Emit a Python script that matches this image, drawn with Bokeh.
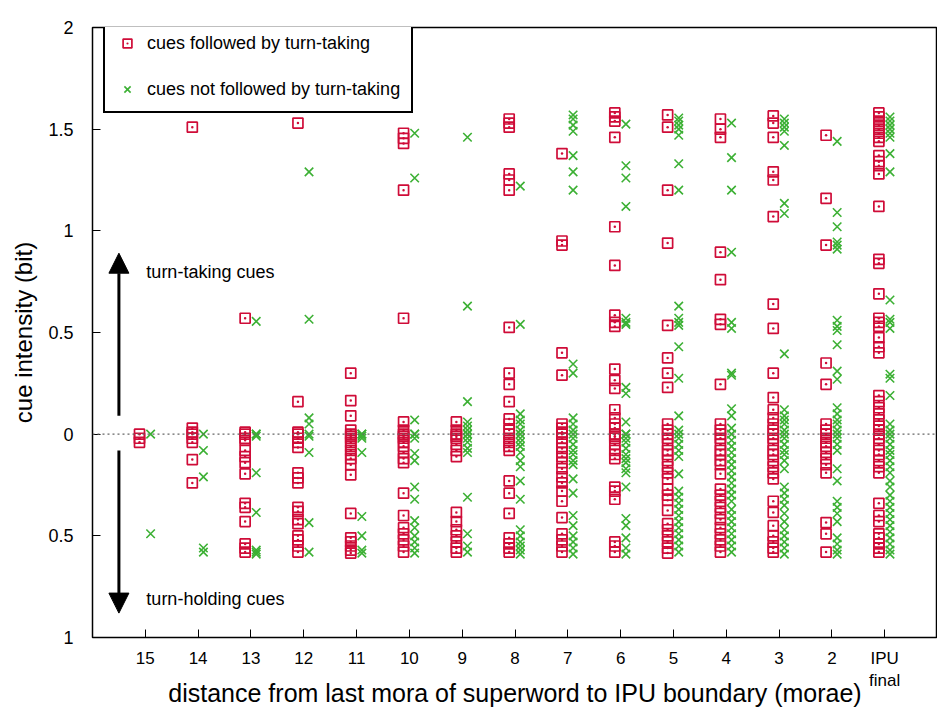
from bokeh.plotting import figure
from bokeh.models import (ColumnDataSource, Range1d, FixedTicker, CustomJSTickFormatter,
                          Span, Arrow, NormalHead, Label, Legend, LegendItem)
from bokeh.transform import dodge
from bokeh.embed import file_html
from bokeh.resources import INLINE

FONT = "Liberation Sans"

# category labels (distance in morae to IPU boundary)
categories = ["15", "14", "13", "12", "11", "10", "9", "8", "7", "6", "5", "4", "3", "2", "IPU\nfinal"]

# cue intensity (bit); negative = turn-holding cues
followed_15 = [0.0, -0.02, -0.04]
notfollowed_15 = [0.0, -0.49]
followed_14 = [1.51, 0.03, 0.01, 0.0, -0.02, -0.04, -0.125, -0.24]
notfollowed_14 = [0.0, -0.08, -0.21, -0.56, -0.58]
followed_13 = [0.57, 0.01, 0.0, -0.02, -0.03, -0.08, -0.11, -0.14, -0.195, -0.34, -0.36, -0.43, -0.54, -0.56, -0.58]
notfollowed_13 = [0.555, 0.0, 0.0, -0.01, -0.19, -0.385, -0.57, -0.58, -0.59]
followed_12 = [1.53, 0.16, 0.01, 0.0, -0.02, -0.04, -0.065, -0.19, -0.215, -0.24, -0.36, -0.38, -0.42, -0.44, -0.5, -0.52, -0.55, -0.58]
notfollowed_12 = [1.29, 0.565, 0.08, 0.05, 0.0, -0.01, -0.09, -0.435, -0.58]
followed_11 = [0.30, 0.165, 0.09, 0.02, 0.0, -0.01, -0.02, -0.04, -0.06, -0.08, -0.1, -0.12, -0.15, -0.2, -0.39, -0.51, -0.53, -0.55, -0.57, -0.585]
notfollowed_11 = [0.0, 0.0, -0.01, -0.02, -0.09, -0.405, -0.5, -0.57, -0.585]
followed_10 = [1.48, 1.455, 1.43, 1.20, 0.57, 0.06, 0.02, 0.0, -0.01, -0.02, -0.04, -0.06, -0.09, -0.12, -0.14, -0.29, -0.40, -0.46, -0.49, -0.52, -0.55, -0.58]
notfollowed_10 = [1.48, 1.26, 0.07, 0.0, 0.0, -0.02, -0.095, -0.13, -0.26, -0.32, -0.425, -0.46, -0.5, -0.53, -0.56, -0.585]
followed_9 = [0.06, 0.02, 0.0, -0.01, -0.02, -0.05, -0.08, -0.11, -0.385, -0.43, -0.47, -0.5, -0.53, -0.56, -0.58]
notfollowed_9 = [1.46, 0.63, 0.16, 0.06, 0.04, 0.02, 0.0, 0.0, -0.02, -0.04, -0.07, -0.09, -0.31, -0.49, -0.55, -0.58]
followed_8 = [1.55, 1.53, 1.51, 1.28, 1.25, 1.20, 0.525, 0.30, 0.245, 0.16, 0.075, 0.05, 0.02, 0.0, -0.02, -0.04, -0.06, -0.08, -0.23, -0.29, -0.39, -0.51, -0.54, -0.56, -0.58]
notfollowed_8 = [1.22, 0.54, 0.1, 0.07, 0.05, 0.02, 0.0, -0.02, -0.04, -0.06, -0.09, -0.13, -0.16, -0.23, -0.32, -0.47, -0.5, -0.53, -0.55, -0.57, -0.59]
followed_7 = [1.38, 0.95, 0.93, 0.40, 0.29, 0.05, 0.03, 0.01, 0.0, -0.02, -0.04, -0.07, -0.09, -0.11, -0.14, -0.17, -0.21, -0.24, -0.28, -0.33, -0.41, -0.49, -0.52, -0.55, -0.58]
notfollowed_7 = [1.57, 1.55, 1.52, 1.49, 1.37, 1.29, 1.20, 0.345, 0.30, 0.08, 0.05, 0.02, 0.0, -0.02, -0.05, -0.08, -0.1, -0.13, -0.15, -0.22, -0.29, -0.40, -0.45, -0.5, -0.53, -0.56, -0.59]
followed_6 = [1.58, 1.56, 1.54, 1.46, 1.02, 0.83, 0.585, 0.55, 0.53, 0.32, 0.265, 0.225, 0.12, 0.08, 0.05, 0.03, 0.0, -0.01, -0.02, -0.05, -0.08, -0.1, -0.12, -0.26, -0.28, -0.32, -0.53, -0.55, -0.58]
notfollowed_6 = [1.525, 1.32, 1.26, 1.12, 0.57, 0.55, 0.54, 0.23, 0.20, 0.06, 0.0, 0.0, -0.02, -0.04, -0.07, -0.1, -0.12, -0.14, -0.17, -0.19, -0.26, -0.415, -0.45, -0.51, -0.56, -0.59]
followed_5 = [1.57, 1.51, 1.20, 0.94, 0.535, 0.375, 0.30, 0.23, 0.05, 0.02, 0.0, -0.02, -0.05, -0.08, -0.1, -0.13, -0.16, -0.19, -0.22, -0.27, -0.30, -0.325, -0.375, -0.44, -0.47, -0.5, -0.53, -0.56, -0.585]
notfollowed_5 = [1.555, 1.54, 1.52, 1.50, 1.47, 1.33, 1.20, 0.63, 0.57, 0.55, 0.535, 0.43, 0.275, 0.09, 0.02, 0.0, -0.02, -0.05, -0.08, -0.11, -0.195, -0.28, -0.31, -0.34, -0.37, -0.40, -0.43, -0.46, -0.49, -0.52, -0.55, -0.58]
followed_4 = [1.55, 1.50, 1.46, 0.895, 0.76, 0.565, 0.54, 0.245, 0.05, 0.02, 0.0, -0.02, -0.05, -0.08, -0.1, -0.13, -0.15, -0.195, -0.27, -0.30, -0.33, -0.36, -0.39, -0.42, -0.46, -0.49, -0.52, -0.55, -0.58]
notfollowed_4 = [1.53, 1.36, 1.20, 0.895, 0.55, 0.52, 0.30, 0.29, 0.125, 0.09, 0.03, 0.0, -0.03, -0.06, -0.09, -0.12, -0.15, -0.18, -0.21, -0.24, -0.27, -0.30, -0.33, -0.37, -0.40, -0.43, -0.46, -0.49, -0.52, -0.55, -0.58]
followed_3 = [1.565, 1.53, 1.46, 1.29, 1.25, 1.07, 0.64, 0.52, 0.30, 0.18, 0.12, 0.08, 0.05, 0.02, 0.0, -0.02, -0.05, -0.08, -0.1, -0.13, -0.16, -0.19, -0.22, -0.33, -0.385, -0.45, -0.5, -0.53, -0.56, -0.58]
notfollowed_3 = [1.55, 1.53, 1.51, 1.49, 1.42, 1.135, 1.085, 0.395, 0.12, 0.09, 0.07, 0.05, 0.02, 0.0, -0.02, -0.05, -0.08, -0.1, -0.13, -0.17, -0.26, -0.29, -0.32, -0.35, -0.39, -0.43, -0.47, -0.5, -0.53, -0.56, -0.59]
followed_2 = [1.47, 1.16, 0.93, 0.35, 0.245, 0.05, 0.02, 0.0, -0.02, -0.04, -0.06, -0.09, -0.12, -0.15, -0.19, -0.435, -0.49, -0.58]
notfollowed_2 = [1.44, 1.09, 1.02, 0.945, 0.93, 0.91, 0.56, 0.53, 0.51, 0.44, 0.31, 0.27, 0.13, 0.10, 0.07, 0.05, 0.02, 0.0, -0.02, -0.05, -0.08, -0.17, -0.23, -0.33, -0.36, -0.39, -0.43, -0.51, -0.54, -0.57, -0.59]
followed_ipu = [1.58, 1.56, 1.54, 1.52, 1.50, 1.48, 1.46, 1.44, 1.37, 1.34, 1.32, 1.28, 1.12, 0.86, 0.84, 0.69, 0.57, 0.55, 0.53, 0.475, 0.43, 0.40, 0.19, 0.16, 0.13, 0.10, 0.07, 0.04, 0.02, 0.0, -0.02, -0.05, -0.08, -0.1, -0.13, -0.16, -0.19, -0.34, -0.40, -0.43, -0.49, -0.51, -0.54, -0.56, -0.58]
notfollowed_ipu = [1.56, 1.54, 1.52, 1.50, 1.48, 1.46, 1.38, 1.29, 0.66, 0.565, 0.55, 0.52, 0.295, 0.275, 0.19, 0.05, 0.02, 0.0, -0.02, -0.05, -0.08, -0.1, -0.13, -0.16, -0.19, -0.23, -0.26, -0.30, -0.33, -0.36, -0.39, -0.42, -0.45, -0.48, -0.51, -0.54, -0.57, -0.59]

y_ticks = [-1, -0.5, 0, 0.5, 1, 1.5, 2]

followed = [followed_15, followed_14, followed_13, followed_12, followed_11, followed_10, followed_9,
            followed_8, followed_7, followed_6, followed_5, followed_4, followed_3, followed_2, followed_ipu]
notfollowed = [notfollowed_15, notfollowed_14, notfollowed_13, notfollowed_12, notfollowed_11, notfollowed_10,
               notfollowed_9, notfollowed_8, notfollowed_7, notfollowed_6, notfollowed_5, notfollowed_4,
               notfollowed_3, notfollowed_2, notfollowed_ipu]

pos = {c: i + 1 for i, c in enumerate(categories)}

def build(groups):
    xs, ys = [], []
    for c, vals in zip(categories, groups):
        xs += [pos[c]] * len(vals)
        ys += vals
    return ColumnDataSource(dict(x=xs, y=ys))

src_f = build(followed)
src_n = build(notfollowed)

RED = "#cf0c38"
GREEN = "#3cb034"

p = figure(width=937, height=710, output_backend="svg", toolbar_location=None,
           x_range=Range1d(0, 16), y_range=Range1d(-1, 2),
           min_border_left=92, min_border_top=27, min_border_right=0, min_border_bottom=73)
p.background_fill_color = "white"
p.border_fill_color = "white"
p.grid.visible = False
p.outline_line_color = "black"
p.outline_line_width = 1.5

# zero line
p.add_layout(Span(location=0, dimension="width", line_color="#666666", line_dash="2 3", line_width=1.2))

r_f = p.scatter(x=dodge("x", -0.11), y="y", source=src_f, marker="square_dot", size=10,
                fill_color=None, line_color=RED, line_width=1.7)
r_n = p.scatter(x=dodge("x", 0.1), y="y", source=src_n, marker="x", size=12,
                line_color=GREEN, line_width=1.6)

# axes
xa = p.xaxis[0]
xa.ticker = FixedTicker(ticks=[pos[c] for c in categories])
xa.major_label_overrides = {pos[c]: c for c in categories}
xa.axis_label = "distance from last mora of superword to IPU boundary (morae)"
ya = p.yaxis[0]
ya.ticker = FixedTicker(ticks=y_ticks)
ya.formatter = CustomJSTickFormatter(code="return String(Math.abs(tick));")
ya.axis_label = "cue intensity (bit)"
for ax in (xa, ya):
    ax.major_tick_in = 8
    ax.major_tick_out = 0
    ax.minor_tick_line_color = None
    ax.axis_line_color = "black"
    ax.major_tick_line_color = "black"
    ax.major_label_text_font = FONT
    ax.major_label_text_color = "black"
    ax.axis_label_text_font = FONT
    ax.axis_label_text_font_style = "normal"
    ax.axis_label_text_color = "black"
xa.major_label_text_font_size = "17px"
ya.major_label_text_font_size = "18px"
xa.axis_label_text_font_size = "25px"
ya.axis_label_text_font_size = "24px"
xa.major_label_standoff = 11
xa.axis_label_standoff = -14
ya.major_label_standoff = 19
ya.axis_label_standoff = 8

# arrows and annotations
p.add_layout(Arrow(end=NormalHead(size=20, fill_color="black", line_color="black"),
                   x_start=0.5, y_start=0.09, x_end=0.5, y_end=0.89, line_width=3, line_color="black"))
p.add_layout(Arrow(end=NormalHead(size=20, fill_color="black", line_color="black"),
                   x_start=0.5, y_start=-0.08, x_end=0.5, y_end=-0.88, line_width=3, line_color="black"))
p.add_layout(Label(x=1.02, y=0.80, text="turn-taking cues", text_font=FONT, text_font_size="18px",
                   text_baseline="middle", text_color="black"))
p.add_layout(Label(x=1.02, y=-0.81, text="turn-holding cues", text_font=FONT, text_font_size="18px",
                   text_baseline="middle", text_color="black"))

legend = Legend(items=[LegendItem(label="cues followed by turn-taking", renderers=[r_f]),
                       LegendItem(label="cues not followed by turn-taking", renderers=[r_n])],
                location=(11, 524), margin=0, padding=11, spacing=24,
                glyph_width=22, glyph_height=22, label_height=20, label_standoff=9,
                label_text_font=FONT, label_text_font_size="18px", label_text_color="black",
                border_line_color="black", border_line_width=2.5, border_line_alpha=1.0,
                background_fill_color="white", background_fill_alpha=1)
p.add_layout(legend)

open("out.html", "w").write(file_html(p, INLINE))
